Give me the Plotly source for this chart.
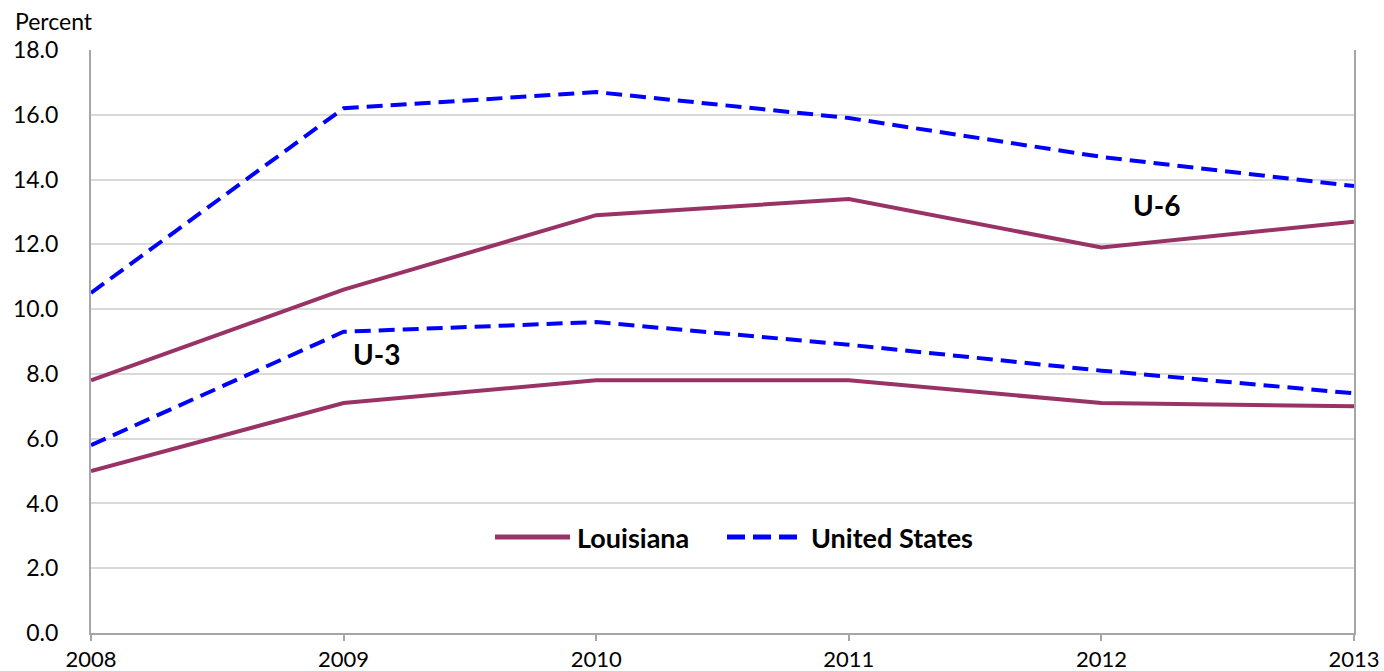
import plotly.graph_objects as go

years = [2008, 2009, 2010, 2011, 2012, 2013]
la_u6 = [7.8, 10.6, 12.9, 13.4, 11.9, 12.7]
us_u6 = [10.5, 16.2, 16.7, 15.9, 14.7, 13.8]
la_u3 = [5.0, 7.1, 7.8, 7.8, 7.1, 7.0]
us_u3 = [5.8, 9.3, 9.6, 8.9, 8.1, 7.4]
y_ticks = [0, 2, 4, 6, 8, 10, 12, 14, 16, 18]
series_names = ["Louisiana", "United States"]

LA_COLOR = "#993366"
US_COLOR = "#0000FF"
US_DASH = "16px,8px"
FONT = "Lato, 'Liberation Sans', sans-serif"

W, H = 1384, 671
ML, MR, MT, MB = 91, 30, 50, 38
PW, PH = W - ML - MR, H - MT - MB


def px_x(p):
    return (p - ML) / PW


def px_y(p):
    return (H - MB - p) / PH


fig = go.Figure()
fig.add_trace(go.Scatter(x=years, y=la_u6, mode="lines", name=series_names[0],
                         line=dict(color=LA_COLOR, width=4), showlegend=False))
fig.add_trace(go.Scatter(x=years, y=la_u3, mode="lines", name=series_names[0],
                         line=dict(color=LA_COLOR, width=4), showlegend=False))
fig.add_trace(go.Scatter(x=years, y=us_u6, mode="lines", name=series_names[1],
                         line=dict(color=US_COLOR, width=4, dash=US_DASH), showlegend=False))
fig.add_trace(go.Scatter(x=years, y=us_u3, mode="lines", name=series_names[1],
                         line=dict(color=US_COLOR, width=4, dash=US_DASH), showlegend=False))

# series labels
fig.add_annotation(x=2009.13, y=8.6, text="<b>U-3</b>", showarrow=False,
                   font=dict(size=28, color="#000000", family=FONT))
fig.add_annotation(x=2012.22, y=13.2, text="<b>U-6</b>", showarrow=False,
                   font=dict(size=28, color="#000000", family=FONT))

# axis title
fig.add_annotation(xref="paper", yref="paper", x=px_x(13), y=px_y(21), xanchor="left",
                   yanchor="middle", text="Percent", showarrow=False,
                   font=dict(size=23, color="#000000", family=FONT))

# custom legend (Excel-style long samples)
ly = px_y(537)
fig.add_shape(type="line", xref="paper", yref="paper", x0=px_x(495), x1=px_x(570),
              y0=ly, y1=ly, line=dict(color=LA_COLOR, width=5))
fig.add_shape(type="line", xref="paper", yref="paper", x0=px_x(727), x1=px_x(797),
              y0=ly, y1=ly, line=dict(color=US_COLOR, width=5, dash="18px,8px"))
fig.add_annotation(xref="paper", yref="paper", x=px_x(575), y=ly, xanchor="left",
                   yanchor="middle", text="<b>%s</b>" % series_names[0], showarrow=False,
                   font=dict(size=27, color="#000000", family=FONT))
fig.add_annotation(xref="paper", yref="paper", x=px_x(809), y=ly, xanchor="left",
                   yanchor="middle", text="<b>%s</b>" % series_names[1], showarrow=False,
                   font=dict(size=27, color="#000000", family=FONT))

fig.update_layout(
    width=W, height=H,
    margin=dict(l=ML, r=MR, t=MT, b=MB),
    paper_bgcolor="white", plot_bgcolor="white",
    font=dict(family=FONT, size=24, color="#000000"),
    showlegend=False,
    xaxis=dict(range=[2008, 2013], tickvals=years, ticktext=[str(y) for y in years],
               showgrid=False, showline=True, linecolor="#a6a6a6", linewidth=2,
               ticks="outside", ticklen=6, tickcolor="#a6a6a6", tickwidth=2,
               zeroline=False, tickfont=dict(size=22), automargin=False,
               ticklabelstandoff=0),
    yaxis=dict(range=[0, 18], tickvals=y_ticks, tickformat=".1f",
               showgrid=True, gridcolor="#d9d9d9", gridwidth=2,
               showline=True, linecolor="#a6a6a6", linewidth=2, mirror=True,
               ticks="", ticklabelstandoff=26, zeroline=False,
               tickfont=dict(size=23), automargin=False),
)

fig.write_html("out.html", config={"displayModeBar": False},
               post_script="document.body.style.margin='0';document.body.style.overflow='hidden';")
